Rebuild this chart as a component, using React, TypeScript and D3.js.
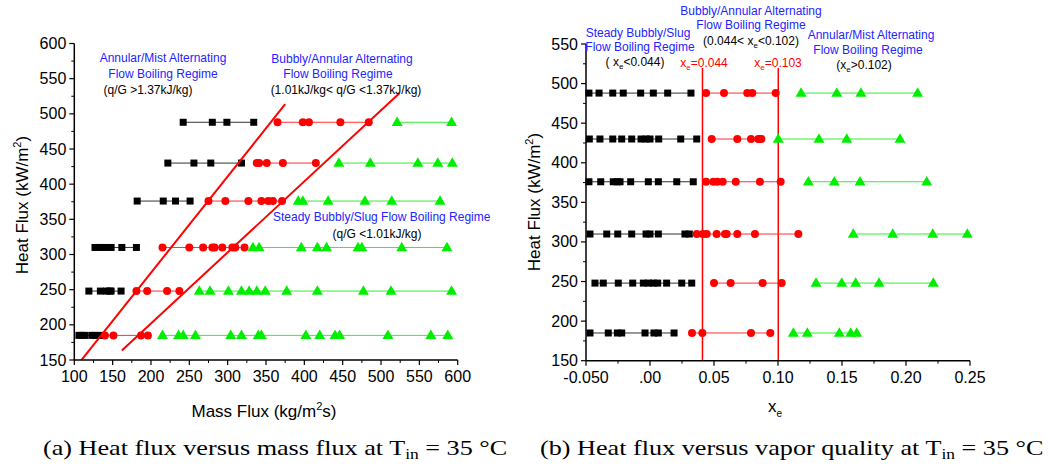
import React from "react";
import * as d3 from "d3";

// ---------- DATA ----------
const heatFlux = [488, 430, 376, 310, 248, 185];

// (a) mass flux per heat-flux row
const gBlack = [
  [242, 280, 299, 334],
  [222, 256, 278, 318],
  [182, 216, 232, 251],
  [127, 134, 140, 148, 162, 181],
  [119, 134, 142, 146, 148, 161],
  [106, 110, 114, 123, 127, 134],
];
const gRed = [
  [365, 398, 406, 447, 484],
  [338, 341, 351, 372, 415],
  [275, 297, 327, 344, 353, 359, 371],
  [215, 250, 268, 280, 283, 293, 306, 310, 322],
  [181, 195, 221, 237],
  [140, 151, 187, 196],
];
const gGreen = [
  [521, 592],
  [445, 486, 548, 574, 593],
  [392, 398, 431, 479, 514, 577],
  [333, 341, 396, 417, 429, 470, 475, 527, 586],
  [263, 277, 301, 318, 328, 338, 349, 377, 417, 477, 513, 592],
  [215, 236, 242, 258, 304, 318, 340, 344, 402, 420, 440, 446, 509, 565, 587],
];
// regime boundary lines q/G = slope, G range
const boundarySlopes = [1.37, 1.01];
const boundaryG = [
  [109.5, 375],
  [162, 524],
];

// (b) vapor quality per heat-flux row
const xBlack = [
  [-0.0477, -0.0398, -0.0291, -0.0209, -0.0073, 0.0026, 0.0138, 0.032],
  [-0.0474, -0.0391, -0.0291, -0.0221, -0.0143, -0.007, -0.0031, 0.0, 0.0068, 0.024, 0.0365],
  [-0.0477, -0.0385, -0.0287, -0.0255, -0.0234, -0.0151, -0.0013, 0.0065, 0.0209, 0.0338],
  [-0.0469, -0.0338, -0.0252, -0.0143, -0.0031, 0.0, 0.0065, 0.0273, 0.0307],
  [-0.043, -0.0365, -0.0248, -0.0135, -0.0052, -0.0013, 0.0026, 0.006, 0.013, 0.0248, 0.0326],
  [-0.0469, -0.0326, -0.0255, -0.0221, -0.0039, 0.0031, 0.0065, 0.0188],
];
const xRed = [
  [0.0438, 0.0578, 0.076, 0.0799, 0.0982],
  [0.0482, 0.0682, 0.0789, 0.0846, 0.0859, 0.087],
  [0.0438, 0.0495, 0.0526, 0.0568, 0.067, 0.0859, 0.1021],
  [0.0365, 0.0412, 0.0443, 0.0521, 0.0586, 0.0599, 0.0682, 0.082, 0.1159],
  [0.05, 0.063, 0.088, 0.1029],
  [0.0328, 0.0409, 0.0789, 0.094],
];
const xGreen = [
  [0.118, 0.1459, 0.1648, 0.2091],
  [0.1002, 0.132, 0.1537, 0.1953],
  [0.1237, 0.144, 0.1641, 0.2162],
  [0.1588, 0.1896, 0.2209, 0.2479],
  [0.1297, 0.1498, 0.1607, 0.1789, 0.2213],
  [0.112, 0.1229, 0.1479, 0.1568, 0.1615],
];
const qualityLines = [0.041, 0.1002];

const leftXTicks = [100, 150, 200, 250, 300, 350, 400, 450, 500, 550, 600];
const leftYTicks = [150, 200, 250, 300, 350, 400, 450, 500, 550, 600];
const rightXTicks = [-0.05, 0, 0.05, 0.1, 0.15, 0.2, 0.25];
const rightXLabels = ["-0.050", ".00", "0.05", "0.10", "0.15", "0.20", "0.25"];
const rightYTicks = [150, 200, 250, 300, 350, 400, 450, 500, 550];

// ---------- STYLE ----------
const FONT = "Liberation Sans, Arial, sans-serif";
const SERIF = "Liberation Serif, Times New Roman, serif";
const BLUE = "#2424ff";
const RED = "#ff0000";
const GREEN = "#00ee00";

function Series({ rows, ys, x, y, kind }: any) {
  const color = kind === "sq" ? "#000" : kind === "ci" ? RED : GREEN;
  const lineColor = kind === "sq" ? "#333" : kind === "ci" ? "#ff3030" : "#33ee33";
  return (
    <g>
      {rows.map((row: number[], i: number) => {
        const yy = y(ys[i]);
        const path = d3.line<number>().x((d) => x(d)).y(() => yy)(row) || "";
        return (
          <g key={i}>
            <path d={path} stroke={lineColor} strokeWidth={1} fill="none" />
            {row.map((v, j) => {
              const cx = x(v);
              if (kind === "sq")
                return <rect key={j} x={cx - 3.5} y={yy - 3.5} width={7} height={7} fill={color} />;
              if (kind === "ci") return <circle key={j} cx={cx} cy={yy} r={4} fill={color} />;
              const s = d3.symbol(d3.symbolTriangle, 52)() || "";
              return <path key={j} d={s} transform={`translate(${cx},${yy + 0.5})`} fill={color} />;
            })}
          </g>
        );
      })}
    </g>
  );
}

function AxisX({ scale, y0, ticks, labels, minor }: any) {
  const [r0, r1] = scale.range();
  return (
    <g>
      <line x1={r0} x2={r1} y1={y0} y2={y0} stroke="#000" strokeWidth={1.5} />
      {minor.map((t: number, i: number) => (
        <line key={"m" + i} x1={scale(t)} x2={scale(t)} y1={y0} y2={y0 + 3} stroke="#000" strokeWidth={1} />
      ))}
      {ticks.map((t: number, i: number) => (
        <g key={i}>
          <line x1={scale(t)} x2={scale(t)} y1={y0} y2={y0 + 5} stroke="#000" strokeWidth={1.2} />
          <text x={scale(t)} y={y0 + 22} textAnchor="middle" fontSize={16} fontFamily={FONT} fill="#000">
            {labels[i]}
          </text>
        </g>
      ))}
    </g>
  );
}

function AxisY({ scale, x0, ticks, minor }: any) {
  const [r0, r1] = scale.range();
  return (
    <g>
      <line x1={x0} x2={x0} y1={r0} y2={r1} stroke="#000" strokeWidth={1.5} />
      {minor.map((t: number, i: number) => (
        <line key={"m" + i} x1={x0 - 3} x2={x0} y1={scale(t)} y2={scale(t)} stroke="#000" strokeWidth={1} />
      ))}
      {ticks.map((t: number, i: number) => (
        <g key={i}>
          <line x1={x0 - 5} x2={x0} y1={scale(t)} y2={scale(t)} stroke="#000" strokeWidth={1.2} />
          <text x={x0 - 8} y={scale(t) + 5.5} textAnchor="end" fontSize={16} fontFamily={FONT} fill="#000">
            {String(t)}
          </text>
        </g>
      ))}
    </g>
  );
}

function T({ x, y, c = BLUE, a = "middle", children }: any) {
  return (
    <text x={x} y={y} fill={c} fontSize={12} fontFamily={FONT} textAnchor={a}>
      {children}
    </text>
  );
}

function Sub({ children }: any) {
  return (
    <tspan fontSize={8} baselineShift="-3">
      {children}
    </tspan>
  );
}

export default function App() {
  // panel (a)
  const xa = d3.scaleLinear().domain([100, 600]).range([74.3, 457.7]);
  const ya = d3.scaleLinear().domain([150, 600]).range([360, 43.5]);
  // panel (b)
  const xb = d3.scaleLinear().domain([-0.05, 0.25]).range([586, 970]);
  const yb = d3.scaleLinear().domain([150, 550]).range([360.7, 44]);

  const aMinorX = d3.range(125, 600, 50);
  const aMinorY = d3.range(175, 600, 50);
  const bMinorX = d3.range(-0.025, 0.25, 0.05);
  const bMinorY = d3.range(175, 550, 50);

  return (
    <svg
      width={1048}
      height={466}
      style={{ position: "absolute", left: 0, top: 0, background: "#fff" }}
    >
      <rect width={1048} height={466} fill="#fff" />

      {/* ---------- Panel (a) ---------- */}
      <Series rows={gBlack} ys={heatFlux} x={xa} y={ya} kind="sq" />
      <Series rows={gRed} ys={heatFlux} x={xa} y={ya} kind="ci" />
      <Series rows={gGreen} ys={heatFlux} x={xa} y={ya} kind="tr" />
      {boundarySlopes.map((s, i) => (
        <line
          key={i}
          x1={xa(boundaryG[i][0])}
          y1={ya(s * boundaryG[i][0])}
          x2={xa(boundaryG[i][1])}
          y2={ya(s * boundaryG[i][1])}
          stroke={RED}
          strokeWidth={2}
        />
      ))}
      <AxisX scale={xa} y0={360} ticks={leftXTicks} labels={leftXTicks.map(String)} minor={aMinorX} />
      <AxisY scale={ya} x0={74.3} ticks={leftYTicks} minor={aMinorY} />
      <text
        transform="translate(28,205) rotate(-90)"
        textAnchor="middle"
        fontSize={17}
        fontFamily={FONT}
      >
        Heat Flux (kW/m<tspan fontSize={11} baselineShift="7">2</tspan>)
      </text>
      <text x={264} y={417} textAnchor="middle" fontSize={17} fontFamily={FONT}>
        Mass Flux (kg/m<tspan fontSize={11} baselineShift="7">2</tspan>s)
      </text>

      <T x={163} y={62}>Annular/Mist Alternating</T>
      <T x={163} y={78}>Flow Boiling Regime</T>
      <T x={148} y={94} c="#000">(q/G &gt;1.37kJ/kg)</T>
      <T x={342} y={63}>Bubbly/Annular Alternating</T>
      <T x={338} y={78}>Flow Boiling Regime</T>
      <T x={346} y={94} c="#000">(1.01kJ/kg&lt; q/G &lt;1.37kJ/kg)</T>
      <T x={273} y={221} a="start">Steady Bubbly/Slug Flow Boiling Regime</T>
      <T x={377} y={238} c="#000">(q/G &lt;1.01kJ/kg)</T>

      {/* ---------- Panel (b) ---------- */}
      {qualityLines.map((q, i) => (
        <line key={i} x1={xb(q)} x2={xb(q)} y1={68} y2={360.7} stroke={RED} strokeWidth={1.5} />
      ))}
      <Series rows={xBlack} ys={heatFlux} x={xb} y={yb} kind="sq" />
      <Series rows={xRed} ys={heatFlux} x={xb} y={yb} kind="ci" />
      <Series rows={xGreen} ys={heatFlux} x={xb} y={yb} kind="tr" />
      <AxisX scale={xb} y0={360.7} ticks={rightXTicks} labels={rightXLabels} minor={bMinorX} />
      <AxisY scale={yb} x0={586} ticks={rightYTicks} minor={bMinorY} />
      <text
        transform="translate(540,202) rotate(-90)"
        textAnchor="middle"
        fontSize={17}
        fontFamily={FONT}
      >
        Heat Flux (kW/m<tspan fontSize={11} baselineShift="7">2</tspan>)
      </text>
      <text x={775} y={412} textAnchor="middle" fontSize={17} fontFamily={FONT}>
        x<tspan fontSize={10} baselineShift="-5">e</tspan>
      </text>

      <T x={751} y={15}>Bubbly/Annular Alternating</T>
      <T x={751} y={29}>Flow Boiling Regime</T>
      <T x={751} y={45} c="#000">(0.044&lt; x<Sub>e</Sub>&lt;0.102)</T>
      <T x={638} y={37}>Steady Bubbly/Slug</T>
      <T x={640} y={51}>Flow Boiling Regime</T>
      <T x={635} y={66} c="#000">( x<Sub>e</Sub>&lt;0.044)</T>
      <T x={871} y={39}>Annular/Mist Alternating</T>
      <T x={868} y={54}>Flow Boiling Regime</T>
      <T x={864} y={69} c="#000">(x<Sub>e</Sub>&gt;0.102)</T>
      <T x={704} y={67} c={RED}>x<Sub>e</Sub>=0.044</T>
      <T x={778} y={67} c={RED}>x<Sub>e</Sub>=0.103</T>

      {/* ---------- Captions ---------- */}
      <g transform="translate(43,455) scale(1.247,1)">
        <text x={0} y={0} fontSize={21} fontFamily={SERIF}>
          (a) Heat flux versus mass flux at T<tspan fontSize={14} baselineShift="-4">in</tspan> = 35 °C
        </text>
      </g>
      <g transform="translate(540,455) scale(1.247,1)">
        <text x={0} y={0} fontSize={21} fontFamily={SERIF}>
          (b) Heat flux versus vapor quality at T<tspan fontSize={14} baselineShift="-4">in</tspan> = 35 °C
        </text>
      </g>
    </svg>
  );
}
